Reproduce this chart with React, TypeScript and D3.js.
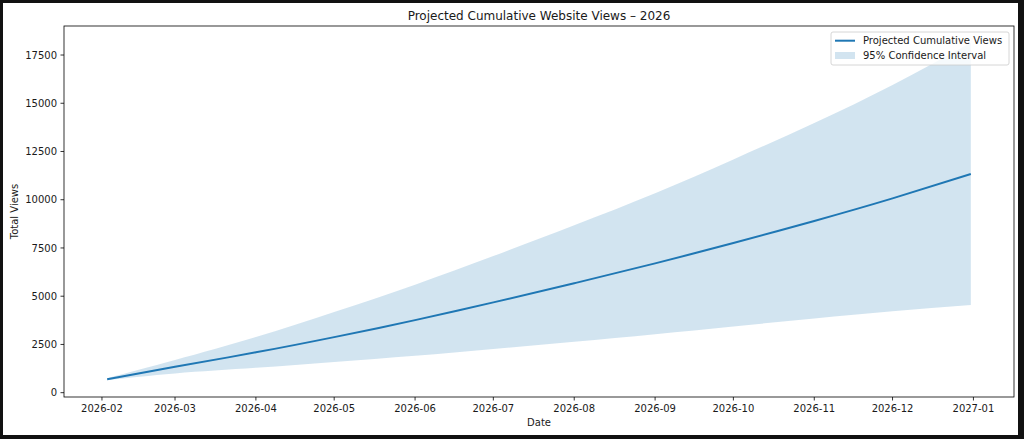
import React from "react";
import * as d3 from "d3";

const dates = [
  "2026-02-03", "2026-03-01", "2026-04-01", "2026-05-01", "2026-06-01", "2026-07-01",
  "2026-08-01", "2026-09-01", "2026-10-01", "2026-11-01", "2026-12-01", "2026-12-31",
];
const projected = [700, 1340, 2090, 2880, 3760, 4680, 5670, 6700, 7760, 8900, 10070, 11330];
const upper = [750, 1690, 2880, 4180, 5600, 7080, 8680, 10340, 12090, 13980, 15950, 18130];
const lower = [650, 1000, 1290, 1590, 1910, 2260, 2640, 3030, 3430, 3850, 4220, 4540];
const xTickLabels = [
  "2026-02", "2026-03", "2026-04", "2026-05", "2026-06", "2026-07",
  "2026-08", "2026-09", "2026-10", "2026-11", "2026-12", "2027-01",
];
const yTicks = [0, 2500, 5000, 7500, 10000, 12500, 15000, 17500];

const W = 1024;
const H = 439;
const FONT = "DejaVu Sans, sans-serif";

export default function App() {
  const parse = d3.timeParse("%Y-%m-%d");
  const parseM = d3.timeParse("%Y-%m");
  const pts = dates.map((d, i) => ({
    t: parse(d) as Date,
    y: projected[i],
    lo: lower[i],
    hi: upper[i],
  }));

  const left = 64, right = 1014, top = 26, bottom = 397;

  const [t0, t1] = d3.extent(pts, (p) => p.t) as [Date, Date];
  const span = +t1 - +t0;
  const x = d3
    .scaleTime()
    .domain([new Date(+t0 - span * 0.05), new Date(+t1 + span * 0.05)])
    .range([left, right]);

  const yMin = d3.min(lower) as number;
  const yMax = d3.max(upper) as number;
  const yr = yMax - yMin;
  const y = d3
    .scaleLinear()
    .domain([yMin - yr * 0.05, yMax + yr * 0.05])
    .range([bottom, top]);

  const line = d3
    .line<any>()
    .x((p) => x(p.t))
    .y((p) => y(p.y))
    .curve(d3.curveNatural);
  const area = d3
    .area<any>()
    .x((p) => x(p.t))
    .y0((p) => y(p.lo))
    .y1((p) => y(p.hi))
    .curve(d3.curveNatural);

  const blue = "#1f77b4";
  const txt = "#1a1a1a";

  const lx = 831, ly = 32, lw = 178, lh = 33;

  return (
    <svg
      width={W}
      height={H}
      style={{ position: "absolute", left: 0, top: 0, display: "block" }}
      fontFamily={FONT}
    >
      <rect x={0} y={0} width={W} height={H} fill="#111" />
      <rect x={3} y={3} width={1015} height={432} fill="#fff" />
      <defs>
        <clipPath id="plotclip">
          <rect x={left} y={top} width={right - left} height={bottom - top} />
        </clipPath>
      </defs>

      <g clipPath="url(#plotclip)">
        <path d={area(pts) || ""} fill={blue} fillOpacity={0.2} stroke="none" />
        <path d={line(pts) || ""} fill="none" stroke={blue} strokeWidth={2} />
      </g>

      {/* spines */}
      <rect
        x={left}
        y={top}
        width={right - left}
        height={bottom - top}
        fill="none"
        stroke="#000"
        strokeWidth={0.8}
      />

      {/* x ticks */}
      {xTickLabels.map((lab) => {
        const px = x(parseM(lab) as Date);
        return (
          <g key={lab}>
            <line x1={px} x2={px} y1={bottom} y2={bottom + 3.5} stroke="#000" strokeWidth={0.8} />
            <text x={px} y={bottom + 14.5} fontSize={10} textAnchor="middle" fill={txt}>
              {lab}
            </text>
          </g>
        );
      })}

      {/* y ticks */}
      {yTicks.map((v) => {
        const py = y(v);
        return (
          <g key={v}>
            <line x1={left - 3.5} x2={left} y1={py} y2={py} stroke="#000" strokeWidth={0.8} />
            <text x={left - 7} y={py + 3.6} fontSize={10} textAnchor="end" fill={txt}>
              {v}
            </text>
          </g>
        );
      })}

      {/* axis labels */}
      <text x={(left + right) / 2} y={425.5} fontSize={10} textAnchor="middle" fill={txt}>
        Date
      </text>
      <text
        transform={`translate(18.3, ${(top + bottom) / 2}) rotate(-90)`}
        fontSize={10}
        textAnchor="middle"
        fill={txt}
      >
        Total Views
      </text>

      {/* title */}
      <text x={(left + right) / 2} y={20} fontSize={12} textAnchor="middle" fill={txt}>
        Projected Cumulative Website Views – 2026
      </text>

      {/* legend */}
      <rect
        x={lx}
        y={ly}
        width={lw}
        height={lh}
        rx={2}
        ry={2}
        fill="#fff"
        fillOpacity={0.8}
        stroke="#cccccc"
        strokeWidth={0.8}
      />
      <line x1={835} x2={855} y1={40.7} y2={40.7} stroke={blue} strokeWidth={2} />
      <text x={863} y={44.3} fontSize={10} fill={txt}>
        Projected Cumulative Views
      </text>
      <rect x={835} y={52} width={20} height={7} fill={blue} fillOpacity={0.2} />
      <text x={863} y={59} fontSize={10} fill={txt}>
        95% Confidence Interval
      </text>
    </svg>
  );
}
